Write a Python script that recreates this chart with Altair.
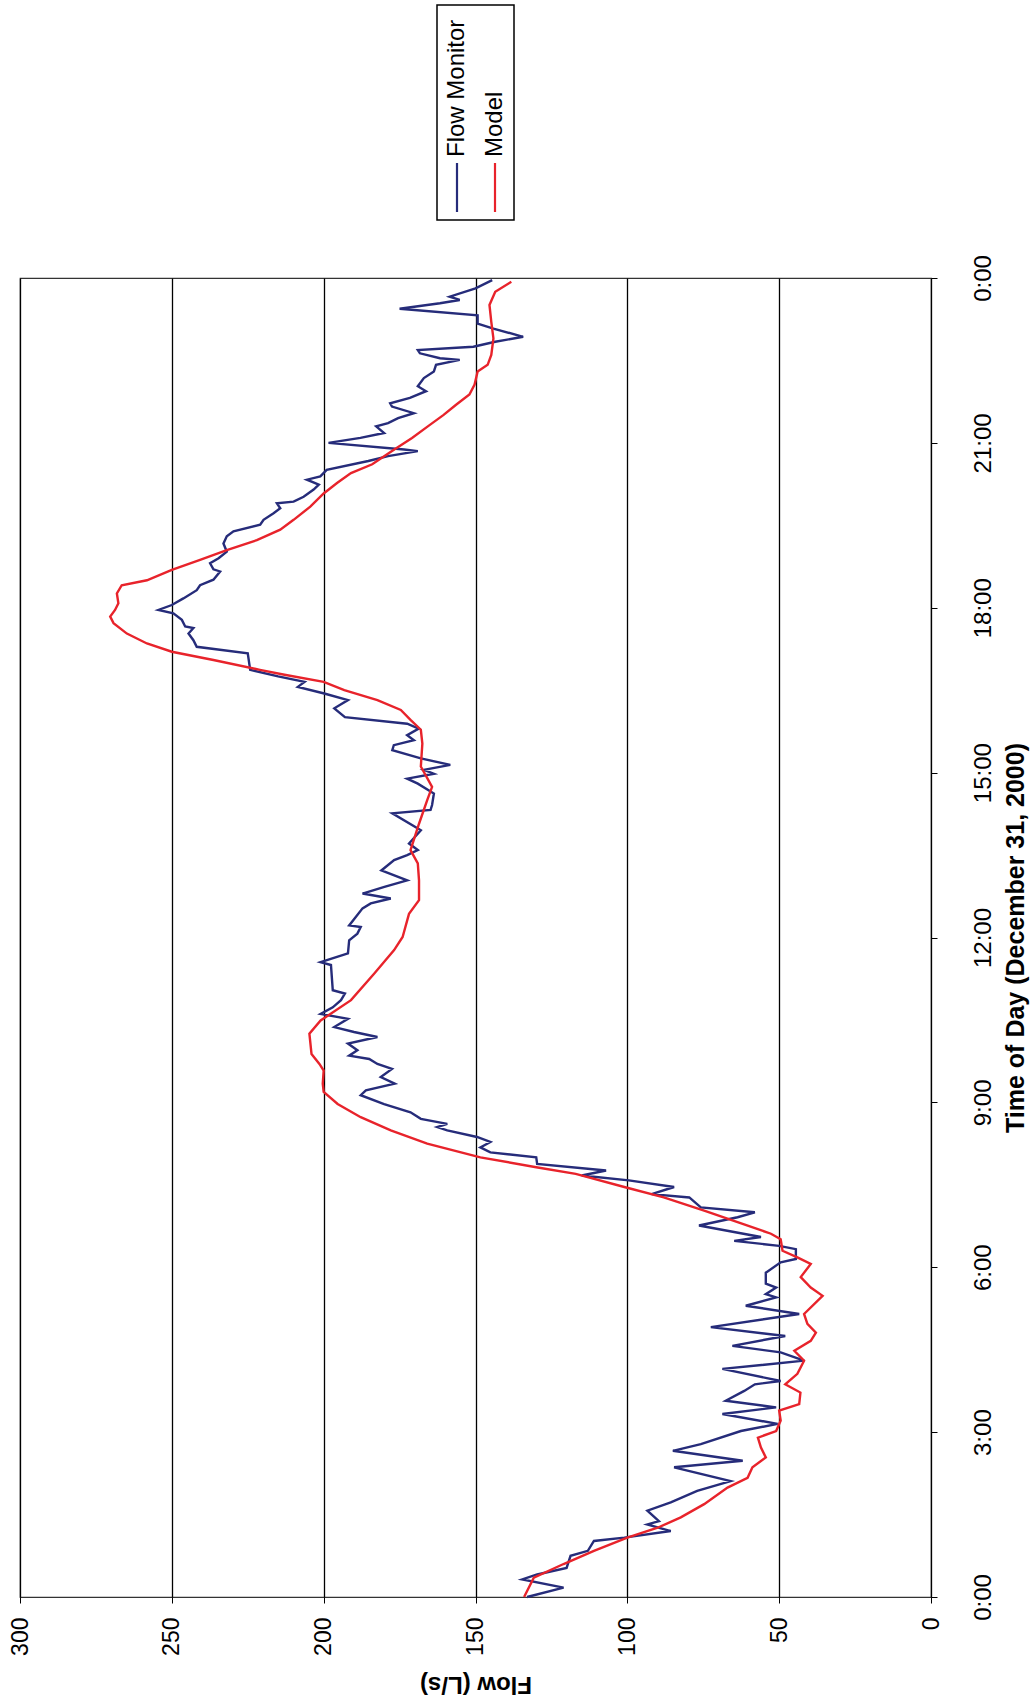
import altair as alt
import pandas as pd

# Hour of day (0-24) and flow (L/s) for each series
MONITOR_T = [0.00, 0.17, 0.32, 0.41, 0.53, 0.75, 0.84, 1.02, 1.08, 1.20, 1.32, 1.38,
             1.57, 1.72, 1.93, 2.11, 2.36, 2.48, 2.66, 2.78, 3.02, 3.15, 3.33, 3.45,
             3.57, 3.75, 3.87, 3.93, 4.15, 4.30, 4.45, 4.57, 4.75, 4.91, 5.15, 5.30,
             5.45, 5.51, 5.63, 5.70, 5.90, 6.09, 6.15, 6.33, 6.39, 6.48, 6.55, 6.76,
             6.91, 7.00, 7.09, 7.27, 7.33, 7.46, 7.58, 7.67, 7.76, 7.88, 8.00, 8.09,
             8.18, 8.28, 8.37, 8.49, 8.55, 8.61, 8.70, 8.82, 8.97, 9.13, 9.22, 9.34,
             9.46, 9.61, 9.70, 9.79, 9.85, 9.95, 10.07, 10.19, 10.28, 10.37, 10.52, 10.61,
             10.73, 10.86, 10.98, 11.04, 11.50, 11.55, 11.71, 11.95, 12.07, 12.19, 12.22, 12.53,
             12.62, 12.71, 12.80, 12.92, 13.04, 13.22, 13.41, 13.50, 13.59, 13.71, 13.95, 14.26,
             14.32, 14.41, 14.62, 14.80, 14.89, 14.98, 15.05, 15.14, 15.26, 15.41, 15.50, 15.59,
             15.68, 15.80, 15.89, 16.01, 16.17, 16.32, 16.44, 16.56, 16.65, 16.75, 16.87, 17.17,
             17.29, 17.41, 17.53, 17.63, 17.66, 17.78, 17.90, 17.96, 18.05, 18.17, 18.32, 18.41,
             18.51, 18.66, 18.70, 18.81, 18.90, 19.02, 19.17, 19.30, 19.39, 19.51, 19.60, 19.72,
             19.81, 19.90, 19.93, 20.02, 20.15, 20.24, 20.33, 20.39, 20.51, 20.67, 20.76, 20.85,
             20.88, 21.00, 21.09, 21.18, 21.30, 21.36, 21.45, 21.54, 21.66, 21.72, 21.82, 21.94,
             22.03, 22.18, 22.30, 22.42, 22.51, 22.54, 22.63, 22.69, 22.75, 22.84, 22.93, 23.08,
             23.17, 23.32, 23.44, 23.54, 23.60, 23.66, 23.81, 23.96]
MONITOR_Q = [133.0, 121.0, 134.6, 129.7, 120.0, 118.7, 113.0, 111.0, 101.0, 85.7, 93.4, 89.6,
             93.4, 85.7, 77.0, 66.0, 84.6, 62.0, 85.0, 75.8, 62.6, 50.5, 68.7, 51.0,
             67.6, 61.5, 58.0, 49.5, 68.7, 41.8, 49.5, 65.4, 48.0, 72.5, 43.4, 61.0,
             51.0, 54.4, 51.0, 54.4, 54.4, 49.5, 44.5, 44.5, 50.0, 64.8, 56.0, 76.4,
             63.7, 58.0, 75.8, 79.6, 92.0, 84.6, 99.5, 115.0, 107.0, 129.7, 130.0, 145.1,
             148.4, 145.1, 149.5, 159.3, 162.6, 159.3, 168.0, 171.4, 180.1, 187.8, 186.1, 176.6,
             181.2, 177.5, 182.3, 185.0, 191.6, 188.9, 192.0, 182.3, 190.0, 196.5, 192.0, 201.0,
             197.0, 194.3, 193.0, 197.0, 197.6, 201.0, 192.0, 191.6, 188.9, 187.8, 191.6, 187.2,
             184.5, 177.9, 187.2, 180.0, 172.5, 181.0, 176.8, 172.5, 169.0, 171.9, 168.0, 177.4,
             164.8, 164.3, 163.7, 169.0, 172.5, 163.7, 167.0, 158.3, 168.0, 177.4, 176.9, 170.3,
             172.5, 168.7, 172.5, 193.0, 196.5, 192.0, 199.8, 208.5, 206.3, 215.0, 224.2, 225.0,
             241.8, 242.9, 244.5, 242.9, 245.6, 246.7, 249.5, 254.4, 250.0, 246.2, 241.8, 240.7,
             236.3, 234.1, 236.3, 237.4, 234.6, 231.9, 233.0, 231.9, 229.7, 220.9, 219.8, 216.5,
             214.3, 215.4, 209.9, 206.6, 203.3, 201.6, 205.5, 201.1, 199.0, 185.3, 178.8, 169.0,
             173.5, 198.4, 187.9, 180.1, 182.7, 178.8, 175.5, 170.3, 177.5, 178.1, 171.6, 166.3,
             169.0, 167.0, 163.7, 163.0, 155.2, 161.7, 168.3, 169.0, 150.7, 143.5, 134.3, 144.1,
             149.3, 149.3, 175.0, 161.7, 155.2, 158.5, 150.0, 144.5]

MODEL_T = [0.00, 0.35, 0.60, 0.84, 1.08, 1.26, 1.45, 1.69, 1.99, 2.17, 2.36, 2.54,
           2.72, 2.90, 3.02, 3.21, 3.39, 3.51, 3.72, 3.87, 4.06, 4.30, 4.48, 4.66,
           4.81, 4.97, 5.15, 5.48, 5.63, 5.82, 6.06, 6.18, 6.30, 6.51, 6.61, 6.82,
           7.03, 7.27, 7.46, 7.70, 7.82, 8.00, 8.25, 8.49, 8.73, 8.97, 9.19, 9.34,
           9.58, 9.70, 9.88, 10.25, 10.49, 10.86, 11.34, 11.77, 12.01, 12.43, 12.68, 13.04,
           13.35, 13.59, 14.07, 14.50, 14.74, 15.11, 15.53, 15.78, 15.96, 16.14, 16.32, 16.50,
           16.65, 16.78, 16.87, 17.05, 17.20, 17.35, 17.53, 17.72, 17.84, 17.96, 18.08, 18.26,
           18.41, 18.50, 18.69, 18.87, 19.05, 19.23, 19.42, 19.60, 19.84, 20.08, 20.27, 20.45,
           20.61, 20.85, 21.09, 21.30, 21.51, 21.69, 21.88, 22.06, 22.30, 22.42, 22.60, 22.90,
           23.20, 23.51, 23.75, 23.93]
MODEL_Q = [134.0, 130.8, 121.0, 111.0, 100.0, 90.0, 82.4, 74.7, 67.0, 60.4, 58.8, 54.4,
           56.0, 57.0, 51.0, 49.5, 50.0, 43.4, 43.0, 48.0, 44.0, 41.8, 45.0, 39.6,
           37.9, 40.7, 41.8, 35.7, 39.6, 42.9, 39.6, 44.0, 48.9, 49.5, 52.7, 63.7,
           74.7, 88.0, 101.0, 117.0, 130.0, 148.4, 165.9, 177.9, 187.8, 195.4, 200.0, 200.3,
           200.0, 201.4, 204.0, 204.7, 201.0, 191.0, 183.4, 176.8, 174.0, 171.9, 168.6, 168.6,
           169.0, 171.4, 168.6, 165.9, 164.3, 168.0, 167.5, 168.0, 171.4, 174.6, 182.3, 193.2,
           200.0, 212.9, 221.0, 236.3, 250.0, 258.2, 264.8, 269.2, 270.3, 268.7, 267.6, 268.1,
           266.5, 258.2, 250.0, 240.7, 231.9, 222.0, 214.3, 209.9, 204.4, 200.0, 195.6, 191.0,
           184.0, 177.5, 170.9, 165.7, 160.5, 156.5, 152.0, 150.3, 149.3, 146.0, 144.8, 144.1,
           144.8, 145.4, 143.5, 138.2]

SERIES = ["Flow Monitor", "Model"]
COLORS = ["#262c7a", "#e8232b"]
FLOW_TICKS = [0, 50, 100, 150, 200, 250, 300]
HOUR_TICKS = [0, 3, 6, 9, 12, 15, 18, 21, 24]

FONT = "Liberation Sans"
W, H = 911, 1319

df = pd.concat([
    pd.DataFrame({"series": SERIES[0], "hour": MONITOR_T, "flow": MONITOR_Q}),
    pd.DataFrame({"series": SERIES[1], "hour": MODEL_T, "flow": MODEL_Q}),
], ignore_index=True)

# The chart is laid out turned on its side: time runs upward, flow runs leftward.
lines = alt.Chart(df).mark_line(strokeWidth=2.4).encode(
    x=alt.X("flow:Q",
            scale=alt.Scale(domain=[0, 300], reverse=True, nice=False, zero=False),
            axis=alt.Axis(orient="bottom", values=FLOW_TICKS, title="Flow (L/s)",
                          labelAngle=270, labelFont=FONT, labelFontSize=23,
                          labelColor="black", labelPadding=14,
                          grid=True, gridColor="black", gridWidth=1.3,
                          domain=False, ticks=True, tickSize=6, tickColor="black",
                          titleFont=FONT, titleFontSize=24, titleFontWeight="bold",
                          titleColor="black", titleAngle=180, titleBaseline="middle",
                          titleY=86, titleX=W / 2, titleAlign="center")),
    y=alt.Y("hour:Q",
            scale=alt.Scale(domain=[0, 24], nice=False, zero=False),
            axis=alt.Axis(orient="right", values=HOUR_TICKS,
                          labelExpr="floor(datum.value % 24) + ':00'",
                          title="Time of Day (December 31, 2000)",
                          labelAngle=270, labelAlign="center", labelBaseline="top",
                          labelFont=FONT, labelFontSize=24, labelColor="black",
                          labelPadding=34, grid=False, domain=False,
                          ticks=True, tickSize=6, tickColor="black",
                          titleFont=FONT, titleFontSize=25, titleFontWeight="bold",
                          titleColor="black", titleAngle=270, titleAlign="center",
                          titleBaseline="middle", titleX=84, titleY=H / 2)),
    color=alt.Color("series:N", scale=alt.Scale(domain=SERIES, range=COLORS), legend=None),
    order=alt.Order("hour:Q"),
)

# Legend box above the plot, drawn sideways like the rest of the chart
one = pd.DataFrame({"k": [0]})
legend_box = alt.Chart(one).mark_rect(fill="white", stroke="black", strokeWidth=1.5).encode(
    x=alt.value(417), x2=alt.value(494), y=alt.value(-273), y2=alt.value(-58))
key_blue = alt.Chart(one).mark_rule(color=COLORS[0], strokeWidth=2.2).encode(
    x=alt.value(437), y=alt.value(-115), y2=alt.value(-66))
key_red = alt.Chart(one).mark_rule(color=COLORS[1], strokeWidth=2.2).encode(
    x=alt.value(475), y=alt.value(-115), y2=alt.value(-66))
label_blue = alt.Chart(one).mark_text(
    text=SERIES[0], angle=270, align="left", baseline="middle",
    font=FONT, fontSize=24, color="black").encode(x=alt.value(437), y=alt.value(-121))
label_red = alt.Chart(one).mark_text(
    text=SERIES[1], angle=270, align="left", baseline="middle",
    font=FONT, fontSize=24, color="black").encode(x=alt.value(475), y=alt.value(-121))

chart = alt.layer(
    lines, legend_box, key_blue, key_red, label_blue, label_red
).properties(
    width=W, height=H,
    autosize=alt.AutoSizeParams(type="none"),
    padding={"left": 20, "top": 278, "right": 101, "bottom": 110},
    background="white",
).configure_view(
    stroke="#333333", strokeWidth=1.2
)

chart.save("out.html", embed_options={"renderer": "svg", "actions": False})
